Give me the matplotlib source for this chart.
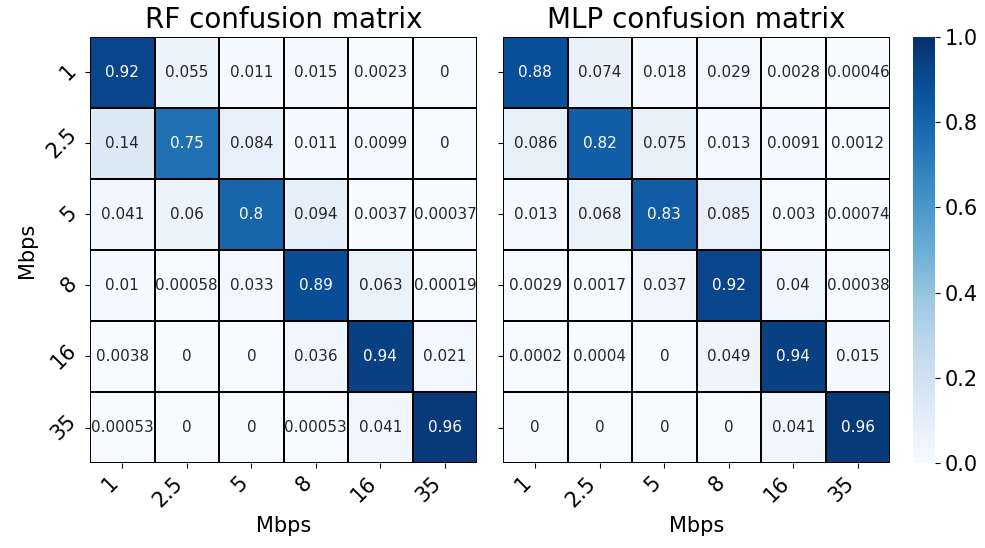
import numpy as np
import matplotlib
matplotlib.use("Agg")
import matplotlib.pyplot as plt
from matplotlib.colors import Normalize

# --- confusion matrix values ---
labels = ["1", "2.5", "5", "8", "16", "35"]

rf_cm = [
    [0.92, 0.055, 0.011, 0.015, 0.0023, 0],
    [0.14, 0.75, 0.084, 0.011, 0.0099, 0],
    [0.041, 0.06, 0.8, 0.094, 0.0037, 0.00037],
    [0.01, 0.00058, 0.033, 0.89, 0.063, 0.00019],
    [0.0038, 0, 0, 0.036, 0.94, 0.021],
    [0.00053, 0, 0, 0.00053, 0.041, 0.96],
]

mlp_cm = [
    [0.88, 0.074, 0.018, 0.029, 0.0028, 0.00046],
    [0.086, 0.82, 0.075, 0.013, 0.0091, 0.0012],
    [0.013, 0.068, 0.83, 0.085, 0.003, 0.00074],
    [0.0029, 0.0017, 0.037, 0.92, 0.04, 0.00038],
    [0.0002, 0.0004, 0, 0.049, 0.94, 0.015],
    [0, 0, 0, 0, 0.041, 0.96],
]

titles = ["RF confusion matrix", "MLP confusion matrix"]

cmap = plt.get_cmap("Blues")
norm = Normalize(vmin=0, vmax=1)


def draw_cm(ax, cm, title, show_ylabel):
    cm = np.asarray(cm, dtype=float)
    n = cm.shape[0]
    mesh = ax.pcolormesh(cm, cmap=cmap, norm=norm,
                         edgecolors="black", linewidth=1.2)
    ax.set_xlim(0, n)
    ax.set_ylim(n, 0)
    for i in range(n):
        for j in range(n):
            v = cm[i, j]
            r, g, b, _ = cmap(norm(v))
            lum = 0.2126 * r + 0.7152 * g + 0.0722 * b
            col = "white" if lum < 0.408 else "#262626"
            ax.text(j + 0.5, i + 0.5, f"{v:.2g}", ha="center", va="center",
                    fontsize=11, color=col)
    ticks = np.arange(n) + 0.5
    ax.set_xticks(ticks)
    ax.set_xticklabels(labels, rotation=45, ha="right", fontsize=15)
    ax.set_yticks(ticks)
    if show_ylabel:
        ax.set_yticklabels(labels, rotation=45, va="center", fontsize=15)
        ax.set_ylabel("Mbps", fontsize=15)
    else:
        ax.set_yticklabels([])
    ax.set_xlabel("Mbps", fontsize=15)
    ax.set_title(title, fontsize=20)
    for s in ax.spines.values():
        s.set_visible(False)
    return mesh


fig = plt.figure(figsize=(9.85, 5.48), dpi=100)
ax1 = fig.add_axes([0.0914, 0.155, 0.393, 0.778])
ax2 = fig.add_axes([0.5107, 0.155, 0.393, 0.778])
cax = fig.add_axes([0.927, 0.155, 0.022, 0.778])

draw_cm(ax1, rf_cm, titles[0], True)
draw_cm(ax2, mlp_cm, titles[1], False)

cb = fig.colorbar(plt.cm.ScalarMappable(norm=norm, cmap=cmap), cax=cax)
cb.outline.set_visible(False)
cb.ax.tick_params(labelsize=15)
cb.set_ticks([0, 0.2, 0.4, 0.6, 0.8, 1.0])

fig.savefig("out.png", dpi=100)
